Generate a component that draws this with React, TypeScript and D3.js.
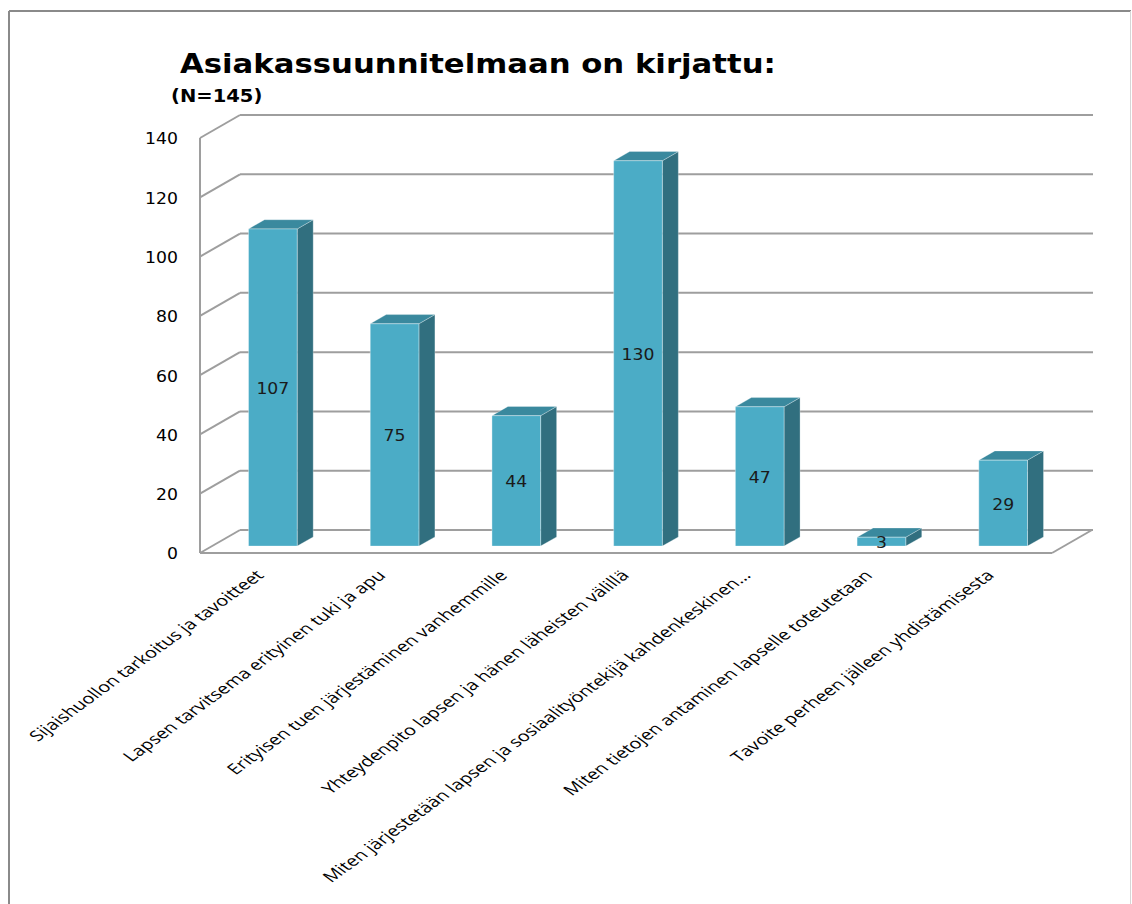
import React from "react";
import * as d3 from "d3";

const categories = [
  "Sijaishuollon tarkoitus ja tavoitteet",
  "Lapsen tarvitsema erityinen tuki ja apu",
  "Erityisen tuen järjestäminen vanhemmille",
  "Yhteydenpito lapsen ja hänen läheisten välillä",
  "Miten järjestetään lapsen ja sosiaalityöntekijä kahdenkeskinen…",
  "Miten tietojen antaminen lapselle toteutetaan",
  "Tavoite perheen jälleen yhdistämisesta",
];
const values = [107, 75, 44, 130, 47, 3, 29];
const yTicks = [0, 20, 40, 60, 80, 100, 120, 140];
const title = "Asiakassuunnitelmaan on kirjattu:";
const subtitle = "(N=145)";

const W = 1132;
const H = 904;
const X0 = 200;
const X1 = 1052;
const DX = 40;
const DY = -23;
const D0 = 0.3;
const D1 = 0.7;
const SX = 1.15;

const FRONT = "#4BACC6";
const TOP = "#3A899E";
const SIDE = "#316F7F";
const GRID = "#9E9E9E";

export default function App() {
  const x = d3.scaleBand<string>().domain(categories).range([X0, X1]).padding(0);
  const y = d3.scaleLinear().domain([0, 140]).range([553, 138]);
  const bw = x.bandwidth() * 0.4;
  const numFont = "'DejaVu Sans', Verdana, sans-serif";
  const catFont = "'Open Sans', 'Noto Sans', sans-serif";

  return (
    <svg width={W} height={H} style={{ position: "absolute", left: 0, top: 0, background: "#fff" }}>
      {/* outer border */}
      <line x1={9} y1={11} x2={1131} y2={11} stroke="#8a8a8a" strokeWidth={2} />
      <line x1={9} y1={11} x2={9} y2={H} stroke="#8a8a8a" strokeWidth={2} />
      <line x1={1130.5} y1={11} x2={1130.5} y2={H} stroke="#d6d6d6" strokeWidth={1} />

      <text
        transform={`translate(180,73) scale(1.16,1)`}
        fontFamily={numFont}
        fontWeight="bold"
        fontSize={26.5}
        fill="#000"
      >
        {title}
      </text>
      <text
        transform={`translate(171,102) scale(1.15,1)`}
        fontFamily={numFont}
        fontWeight="bold"
        fontSize={17}
        fill="#000"
      >
        {subtitle}
      </text>

      {/* walls: gridlines */}
      {yTicks.map((t) => (
        <g key={t}>
          <line x1={X0} y1={y(t)} x2={X0 + DX} y2={y(t) + DY} stroke={GRID} strokeWidth={2} />
          <line x1={X0 + DX} y1={y(t) + DY} x2={X1 + DX + 1} y2={y(t) + DY} stroke={GRID} strokeWidth={2} />
          <text
            transform={`translate(178,${y(t) + 1}) scale(${SX},1)`}
            dy="0.36em"
            textAnchor="end"
            fontFamily={numFont}
            fontSize={15}
            fill="#000"
          >
            {t}
          </text>
        </g>
      ))}
      <line x1={X0} y1={y(0)} x2={X0} y2={y(140)} stroke={GRID} strokeWidth={2} />
      <line x1={X0} y1={y(0)} x2={X1} y2={y(0)} stroke={GRID} strokeWidth={2} />
      <line x1={X1} y1={y(0)} x2={X1 + DX} y2={y(0) + DY} stroke={GRID} strokeWidth={2} />

      {/* bars */}
      {categories.map((c, i) => {
        const v = values[i];
        const cx = (x(c) as number) + x.bandwidth() / 2;
        const fx0 = cx - bw / 2 + DX * D0;
        const fx1 = fx0 + bw;
        const fyB = y(0) + DY * D0;
        const fyT = y(v) + DY * D0;
        const ddx = DX * (D1 - D0);
        const ddy = DY * (D1 - D0);
        const front = `M${fx0},${fyB}L${fx0},${fyT}L${fx1},${fyT}L${fx1},${fyB}Z`;
        const top = `M${fx0},${fyT}L${fx0 + ddx},${fyT + ddy}L${fx1 + ddx},${fyT + ddy}L${fx1},${fyT}Z`;
        const side = `M${fx1},${fyB}L${fx1},${fyT}L${fx1 + ddx},${fyT + ddy}L${fx1 + ddx},${fyB + ddy}Z`;
        return (
          <g key={c}>
            <path d={side} fill={SIDE} stroke="rgba(255,255,255,0.35)" strokeWidth={0.8} />
            <path d={top} fill={TOP} stroke="rgba(255,255,255,0.35)" strokeWidth={0.8} />
            <path d={front} fill={FRONT} stroke="rgba(255,255,255,0.45)" strokeWidth={0.8} />
            <text
              transform={`translate(${(fx0 + fx1) / 2},${(fyB + fyT) / 2 + 1}) scale(${SX},1)`}
              dy="0.36em"
              textAnchor="middle"
              fontFamily={numFont}
              fontSize={15}
              fill="#1a1a1a"
            >
              {v}
            </text>
          </g>
        );
      })}

      {/* category labels */}
      {categories.map((c) => {
        const cx = (x(c) as number) + x.bandwidth() / 2;
        return (
          <text
            key={c}
            transform={`translate(${cx - 6},${569}) scale(1.37,1) rotate(-45)`}
            dy="0.71em"
            textAnchor="end"
            fontFamily={catFont}
            fontSize={14.6}
            fill="#000"
          >
            {c}
          </text>
        );
      })}
    </svg>
  );
}
